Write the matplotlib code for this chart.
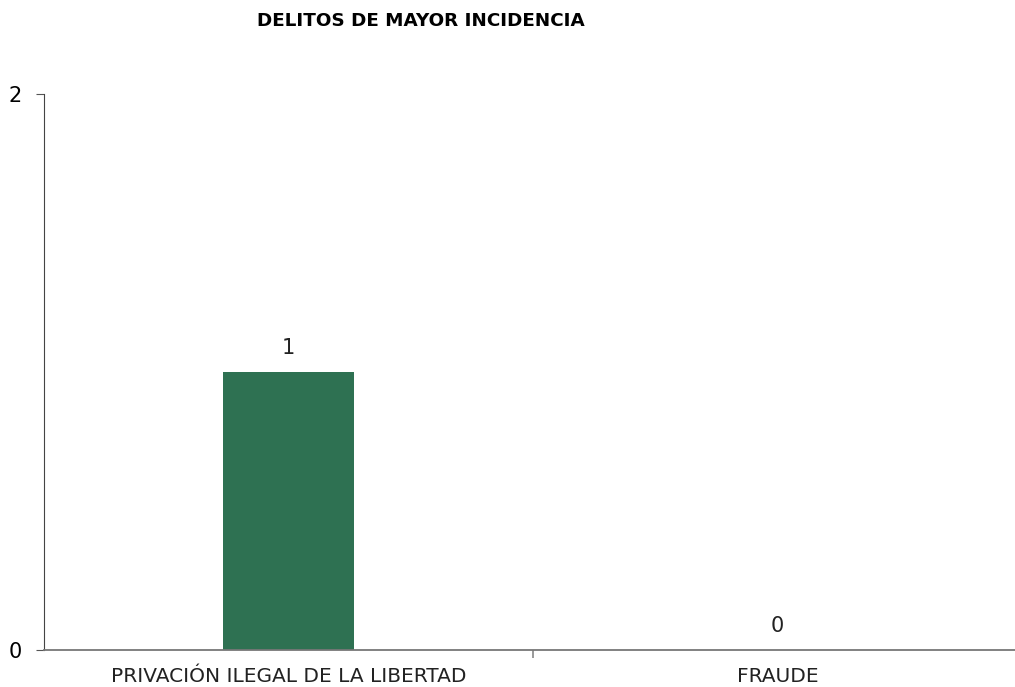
import matplotlib
matplotlib.use("Agg")
import numpy as np
import matplotlib.pyplot as plt

categories = ["PRIVACIÓN ILEGAL DE LA LIBERTAD", "FRAUDE"]
values = [1, 0]
y_ticks = [0, 2]
title = "DELITOS DE MAYOR INCIDENCIA"

fig = plt.figure(figsize=(10.15, 6.87), dpi=100)
ax = fig.add_axes([44/1015, 37/687, (1022-44)/1015, (650-94)/687])

x = np.arange(len(categories))
bars = ax.bar(x, values, width=0.266, color="#2E7152", zorder=2)
for xi, v in zip(x, values):
    ax.text(xi, v + 0.05, f"{v}", ha="center", va="bottom", fontsize=15, color="#222222")

ax.set_xlim(-0.5, len(categories) - 0.5)
ax.set_ylim(0, 2)
ax.set_yticks(y_ticks)
ax.set_yticklabels([str(t) for t in y_ticks], fontsize=15)
ax.set_xticks(x)
ax.set_xticklabels(categories, fontsize=14.5, color="#222222")
ax.tick_params(axis="x", length=0, pad=12)
ax.set_xticks([0.5], minor=True)
ax.tick_params(axis="x", which="minor", length=6, color="#888888", width=1.2)
ax.tick_params(axis="y", length=6, color="#555555", pad=10)

for s in ["top", "right"]:
    ax.spines[s].set_visible(False)
ax.spines["left"].set_color("#444444")
ax.spines["bottom"].set_color("#777777")
ax.spines["bottom"].set_linewidth(1.3)

fig.text(421/1015, 1 - 21/687, title, ha="center", va="center",
         fontsize=13.2, fontweight="bold")

fig.savefig("out.png", dpi=100)
